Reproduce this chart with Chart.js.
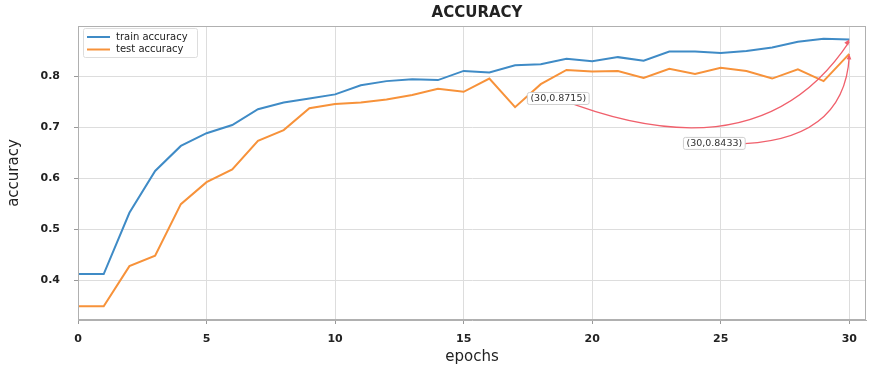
<!DOCTYPE html>
<html>
<head>
<meta charset="utf-8">
<script src="https://cdn.jsdelivr.net/npm/chart.js@4.4.0/dist/chart.umd.min.js"></script>
<style>
	html, body { margin: 0; padding: 0; background: #fff; }
	#wrap { width: 876px; height: 370px; }
</style>
</head>
<body>
<div id="wrap"><canvas id="accChart" width="876" height="370"></canvas></div>
<script>
// values
const epochs = [0, 1, 2, 3, 4, 5, 6, 7, 8, 9, 10, 11, 12, 13, 14, 15, 16, 17, 18, 19, 20, 21, 22, 23, 24, 25, 26, 27, 28, 29, 30];
const trainAcc = [0.412, 0.412, 0.532, 0.614, 0.663, 0.688, 0.704, 0.735, 0.748, 0.756, 0.764, 0.782, 0.790, 0.7935, 0.792, 0.810, 0.807, 0.821, 0.823, 0.834, 0.829, 0.837, 0.830, 0.848, 0.848, 0.845, 0.849, 0.856, 0.867, 0.873, 0.8715];
const testAcc = [0.349, 0.349, 0.4275, 0.448, 0.549, 0.592, 0.617, 0.673, 0.694, 0.737, 0.745, 0.748, 0.754, 0.763, 0.775, 0.769, 0.795, 0.739, 0.784, 0.812, 0.809, 0.810, 0.796, 0.814, 0.804, 0.816, 0.810, 0.795, 0.813, 0.790, 0.8433];
const xTicks = [0, 5, 10, 15, 20, 25, 30];
const yTicks = [0.4, 0.5, 0.6, 0.7, 0.8];

const FONT = "'DejaVu Sans', sans-serif";

function toPoints(ys) {
	return epochs.map(function (e, i) { return { x: e, y: ys[i] }; });
}

// last-point callouts, like plt.annotate with a curved red arrow
const callouts = [
	{ data: trainAcc, boxAt: [18.68, 0.756], bend: [26.5, 0.600] },
	{ data: testAcc, boxAt: [24.75, 0.668], bend: [29.8, 0.655] },
];

const framePlugin = {
	id: "frame",
	afterDraw: function (chart) {
		const ctx = chart.ctx;
		const a = chart.chartArea;
		const xs = chart.scales.x;
		const ys = chart.scales.y;
		ctx.save();

		// plot frame
		ctx.strokeStyle = "#b0b0b0";
		ctx.lineWidth = 1;
		ctx.strokeRect(a.left + 0.5, a.top + 0.5, a.right - a.left - 1, a.bottom - a.top - 1);

		// title
		ctx.fillStyle = "#222";
		ctx.font = "bold 15px " + FONT;
		ctx.textAlign = "center";
		ctx.textBaseline = "middle";
		ctx.fillText("ACCURACY", 477, 13);

		// legend
		const lx = a.left + 5, ly = a.top + 2;
		ctx.fillStyle = "rgba(255,255,255,0.9)";
		ctx.strokeStyle = "#dddddd";
		ctx.beginPath();
		ctx.roundRect(lx + 0.5, ly + 0.5, 114, 29, 2);
		ctx.fill();
		ctx.stroke();
		ctx.font = "10px " + FONT;
		ctx.textAlign = "left";
		chart.data.datasets.forEach(function (ds, i) {
			const ry = ly + 9 + i * 12.5;
			ctx.strokeStyle = ds.borderColor;
			ctx.lineWidth = 2;
			ctx.beginPath();
			ctx.moveTo(lx + 4, ry);
			ctx.lineTo(lx + 27, ry);
			ctx.stroke();
			ctx.fillStyle = "#222";
			ctx.fillText(ds.label, lx + 33, ry);
		});

		// callouts
		callouts.forEach(function (c) {
			const last = c.data.length - 1;
			const tx = xs.getPixelForValue(epochs[last]);
			const ty = ys.getPixelForValue(c.data[last]);
			const bx = xs.getPixelForValue(c.boxAt[0]);
			const by = ys.getPixelForValue(c.boxAt[1]);
			const cx = xs.getPixelForValue(c.bend[0]);
			const cy = ys.getPixelForValue(c.bend[1]);

			ctx.strokeStyle = "#f0606c";
			ctx.fillStyle = "#f0606c";
			ctx.lineWidth = 1.3;
			ctx.beginPath();
			ctx.moveTo(bx, by);
			ctx.quadraticCurveTo(cx, cy, tx, ty + 2);
			ctx.stroke();

			const ang = Math.atan2(ty + 2 - cy, tx - cx);
			ctx.beginPath();
			ctx.moveTo(tx, ty);
			ctx.lineTo(tx - 6 * Math.cos(ang - 0.4), ty - 6 * Math.sin(ang - 0.4));
			ctx.lineTo(tx - 6 * Math.cos(ang + 0.4), ty - 6 * Math.sin(ang + 0.4));
			ctx.closePath();
			ctx.fill();

			const label = "(" + epochs[last] + "," + c.data[last] + ")";
			ctx.font = "9.5px " + FONT;
			const w = ctx.measureText(label).width + 6;
			ctx.fillStyle = "#fff";
			ctx.strokeStyle = "#cfcfcf";
			ctx.lineWidth = 1;
			ctx.beginPath();
			ctx.roundRect(bx - w / 2, by - 6, w, 12, 2);
			ctx.fill();
			ctx.stroke();
			ctx.fillStyle = "#333";
			ctx.textAlign = "center";
			ctx.fillText(label, bx, by + 0.5);
		});

		ctx.restore();
	},
};

new Chart(document.getElementById("accChart").getContext("2d"), {
	type: "line",
	data: {
		datasets: [
			{
				label: "train accuracy",
				data: toPoints(trainAcc),
				borderColor: "#3f8bc6",
				borderWidth: 2,
				pointRadius: 0,
				tension: 0,
			},
			{
				label: "test accuracy",
				data: toPoints(testAcc),
				borderColor: "#f7923a",
				borderWidth: 2,
				pointRadius: 0,
				tension: 0,
			},
		],
	},
	options: {
		responsive: false,
		animation: false,
		layout: { padding: { top: 26, right: 10, left: 0, bottom: 0 } },
		plugins: {
			legend: { display: false },
			title: { display: false },
			tooltip: { enabled: false },
		},
		scales: {
			x: {
				type: "linear",
				min: 0,
				max: 30.65,
				afterBuildTicks: function (axis) {
					axis.ticks = xTicks.map(function (v) { return { value: v }; });
				},
				afterFit: function (axis) { axis.height = 50; },
				grid: { color: "#dddddd", tickLength: 4, tickColor: "#999" },
				border: { color: "#b0b0b0" },
				ticks: {
					color: "#222",
					font: { family: FONT, size: 11, weight: "bold" },
					padding: 9,
					maxRotation: 0,
				},
				title: {
					display: true,
					text: "epochs",
					color: "#222",
					font: { family: FONT, size: 15 },
					padding: { top: 0, bottom: 4 },
				},
			},
			y: {
				min: 0.322,
				max: 0.898,
				afterBuildTicks: function (axis) {
					axis.ticks = yTicks.map(function (v) { return { value: v }; });
				},
				afterFit: function (axis) { axis.width = 78; },
				grid: { color: "#dddddd", tickLength: 4, tickColor: "#999" },
				border: { color: "#b0b0b0" },
				ticks: {
					color: "#222",
					font: { family: FONT, size: 11, weight: "bold" },
					padding: 14,
					callback: function (v) { return v.toFixed(1); },
				},
				title: {
					display: true,
					text: "accuracy",
					color: "#222",
					font: { family: FONT, size: 15 },
					padding: { top: 5, bottom: 0 },
				},
			},
		},
	},
	plugins: [framePlugin],
});
</script>
</body>
</html>
